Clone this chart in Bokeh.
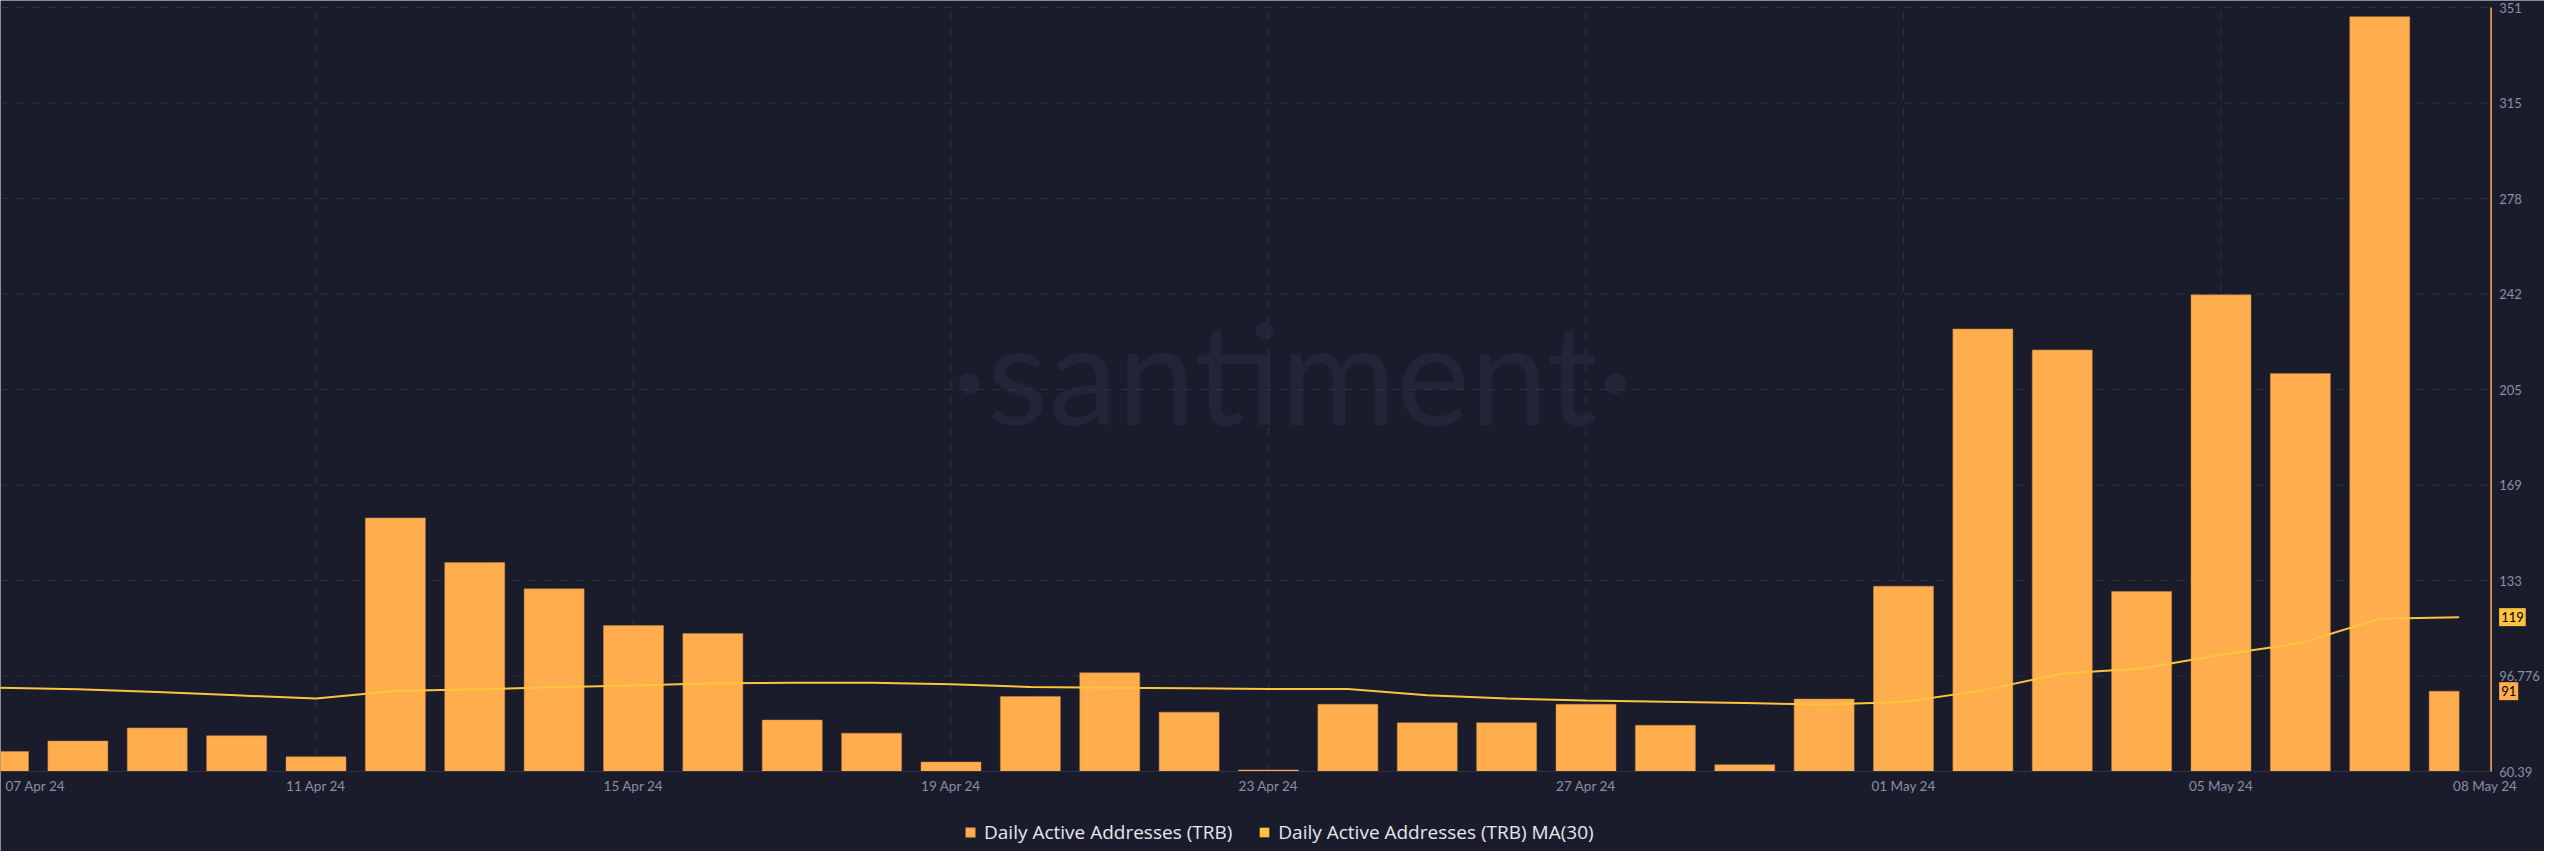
from datetime import date, timedelta

from bokeh.plotting import figure
from bokeh.models import (ColumnDataSource, Range1d, Label, Legend, LegendItem)
from bokeh.embed import file_html
from bokeh.resources import INLINE
from bokeh.core.properties import value

# ---------------- data ----------------
start_date = date(2024, 4, 7)
daily_active = [68, 72, 77, 74, 66, 157, 140, 130, 116, 113,
                80, 75, 64, 89, 98, 83, 61, 86, 79, 79,
                86, 78, 63, 88, 131, 229, 221, 129, 242, 212,
                348, 91]
ma30 = [92.3, 91.7, 90.7, 89.4, 88.2, 91.1, 91.7, 92.5, 93.2, 94.0,
        94.2, 94.2, 93.6, 92.6, 92.3, 92.1, 91.8, 91.8, 89.4, 88.2,
        87.4, 87.0, 86.5, 85.9, 86.9, 91.3, 97.7, 99.6, 104.9, 109.3,
        118.6, 119.2]
y_ticks = [60.39, 96.776, 133.162, 169.548, 205.934, 242.32, 278.706, 315.092, 351.478]
y_tick_labels = ["60.39", "96.776", "133", "169", "205", "242", "278", "315", "351"]
x_tick_days = [4, 8, 12, 16, 20, 24, 28]
series_names = ["Daily Active Addresses (TRB)", "Daily Active Addresses (TRB) MA(30)"]

# ---------------- styling / layout ----------------
BG = "#1a1c2b"
BAR = "#ffad4d"
MA = "#fdc53f"
GRID = "#2f3247"
TICK = "#8a8fa6"
FONT = "Lato"

W, H = 2544, 851
PX_PER_DAY = 79.375
PX_PER_UNIT = 2.62464

n = len(daily_active)
days = list(range(n))
dates = [start_date + timedelta(days=d) for d in days]
labels = [d.strftime("%d %b %y") for d in dates]
last = n - 1

y_lo, y_hi = y_ticks[0], y_ticks[-1]
# frame covers the whole figure; axis area sits inside it
x_start = 2 / PX_PER_DAY
x_end = x_start + W / PX_PER_DAY
axis_x = last + 32 / PX_PER_DAY
y_end = y_hi + 7 / PX_PER_UNIT
y_start = y_end - H / PX_PER_UNIT
half_w = 0.378

src = ColumnDataSource(dict(
    x=days,
    left=[d - half_w for d in days],
    right=[min(d + half_w, last) for d in days],
    top=daily_active,
    bottom=[y_lo] * n,
    ma=ma30,
))

p = figure(width=W, height=H, output_backend="svg", toolbar_location=None,
           x_range=Range1d(x_start, x_end), y_range=Range1d(y_start, y_end),
           x_axis_type=None, y_axis_type=None,
           min_border=0)
p.background_fill_color = BG
p.border_fill_color = BG
p.outline_line_color = None

# watermark
p.add_layout(Label(x=16.3, y=213, text="·santiment·", text_align="center",
                   text_baseline="middle", text_font=FONT, text_font_size="140px",
                   text_color="#222538", level="underlay"))

# grid lines (dashed)
p.segment(x0=[x_start] * len(y_ticks), x1=[axis_x] * len(y_ticks), y0=y_ticks, y1=y_ticks,
          line_color=GRID, line_dash="8 8", line_width=1)
p.segment(x0=x_tick_days, x1=x_tick_days, y0=[y_lo] * len(x_tick_days),
          y1=[y_hi] * len(x_tick_days), line_color=GRID, line_dash="8 8", line_width=1)

bars = p.quad(left="left", right="right", top="top", bottom="bottom", source=src,
              fill_color=BAR, line_color="#c98a45", line_width=0.8, line_alpha=0.6)
p.line(x="x", y="ma", source=src, line_color=MA, line_width=2)
# zero-size proxy used only for the legend swatch of the MA series
proxy = p.quad(left="x", right="x", top="ma", bottom="ma", source=src,
               fill_color=MA, line_color=None)

# axis lines
p.segment(x0=[x_start], x1=[axis_x], y0=[y_lo], y1=[y_lo], line_color=GRID, line_width=1)
p.segment(x0=[axis_x], x1=[axis_x], y0=[y_lo], y1=[y_hi], line_color=BAR, line_width=1.5)

# y tick labels (right axis)
p.text(x=[axis_x] * len(y_ticks), y=y_ticks, text=y_tick_labels, x_offset=8,
       text_align="left", text_baseline="middle", text_color=TICK,
       text_font=value(FONT), text_font_size="13px")

# x tick labels
x_label_y = y_lo - 14 / PX_PER_UNIT
p.text(x=x_tick_days, y=[x_label_y] * len(x_tick_days), text=[labels[d] for d in x_tick_days],
       text_align="center", text_baseline="middle", text_color=TICK,
       text_font=value(FONT), text_font_size="13.5px")
p.text(x=[x_start], y=[x_label_y], text=[labels[0]], x_offset=5,
       text_align="left", text_baseline="middle", text_color=TICK,
       text_font=value(FONT), text_font_size="13.5px")
p.text(x=[last], y=[x_label_y], text=[labels[last]], x_offset=26,
       text_align="center", text_baseline="middle", text_color=TICK,
       text_font=value(FONT), text_font_size="13.5px")

# last value tags
for val, col in ((ma30[-1], MA), (daily_active[-1], BAR)):
    p.add_layout(Label(x=axis_x, y=val, text=f"{round(val)}", x_offset=8,
                       text_align="left", text_baseline="middle", text_color="#000000",
                       text_font=FONT, text_font_size="13px",
                       background_fill_color=col, padding=(2, 4)))

legend = Legend(items=[LegendItem(label=series_names[0], renderers=[bars]),
                       LegendItem(label=series_names[1], renderers=[proxy])],
                orientation="horizontal", location=(960, 2),
                background_fill_alpha=0, border_line_alpha=0,
                label_text_color="#e6e7ec", label_text_font="Open Sans",
                label_text_font_size="19px", glyph_width=12, glyph_height=12,
                spacing=26, label_standoff=8, margin=0, padding=4)
p.add_layout(legend, "center")

open("out.html", "w").write(file_html(p, INLINE))
